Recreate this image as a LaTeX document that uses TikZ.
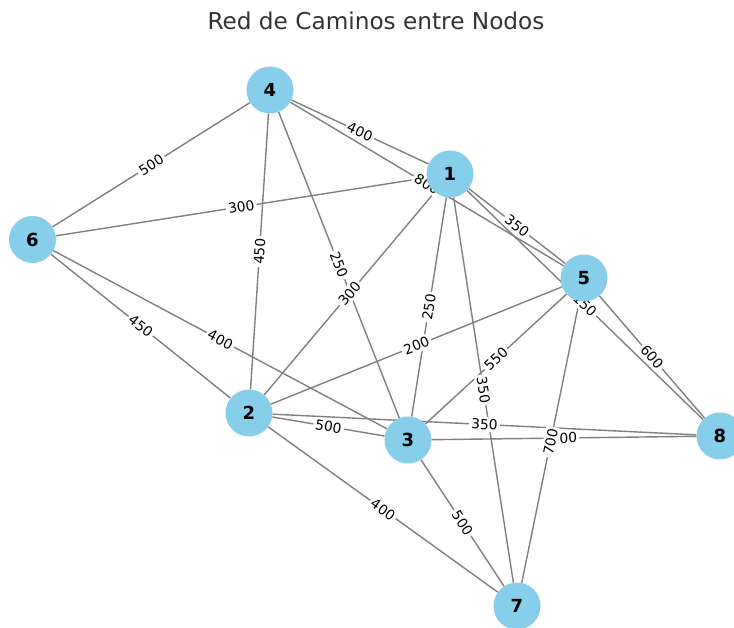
\documentclass[tikz,border=0pt]{standalone}
\usepackage{fontspec}
\setmainfont{DejaVu Sans}
\definecolor{skyblue}{HTML}{87CEEB}
\definecolor{edgegray}{HTML}{808080}
\definecolor{titlegray}{HTML}{333333}
\pgfdeclarelayer{edgelayer}
\pgfdeclarelayer{labellayer}
\pgfsetlayers{edgelayer,labellayer,main}
\begin{document}
\begin{tikzpicture}[x=1pt,y=-1pt,
  vertex/.style={circle, fill=skyblue, minimum size=47pt, inner sep=0pt,
    font=\fontsize{18}{18}\selectfont\bfseries},
  link/.style={draw=edgegray, line width=1.4pt},
  weight/.style={sloped, midway, fill=white, rounded corners=2pt, inner sep=2.2pt,
    font=\fontsize{13.8}{13.8}\selectfont, text=black},
]
\useasboundingbox (0,0) rectangle (734,627);

% title
\node[font=\fontsize{23.2}{23.2}\selectfont, text=titlegray] (title) at (376,21) {Red de Caminos entre Nodos};

% vertices
\node[vertex] (n1) at (450,174) {1};
\node[vertex] (n2) at (249,413) {2};
\node[vertex] (n3) at (408,440) {3};
\node[vertex] (n4) at (270,90) {4};
\node[vertex] (n5) at (584,278) {5};
\node[vertex] (n6) at (32.5,239.5) {6};
\node[vertex] (n7) at (517,606) {7};
\node[vertex] (n8) at (720,436) {8};

% weighted roads: edges below, weights above the edges, vertices on top
\def\roads{4/1/400, 4/6/500, 4/2/450, 4/3/250, 4/5/800, 1/6/300, 1/2/300,
  1/3/250, 1/5/350, 1/7/350, 1/8/150, 6/2/450, 6/3/400, 5/2/200, 3/8/300,
  5/3/550, 5/8/600, 5/7/700, 2/3/500, 2/8/350, 2/7/400, 3/7/500}
\begin{pgfonlayer}{edgelayer}
  \foreach \a/\b/\w in \roads {\draw[link] (n\a) -- (n\b);}
\end{pgfonlayer}
\begin{pgfonlayer}{labellayer}
  \foreach \a/\b/\w in \roads {\path (n\a) -- node[weight] {\w} (n\b);}
\end{pgfonlayer}
\end{tikzpicture}
\end{document}
